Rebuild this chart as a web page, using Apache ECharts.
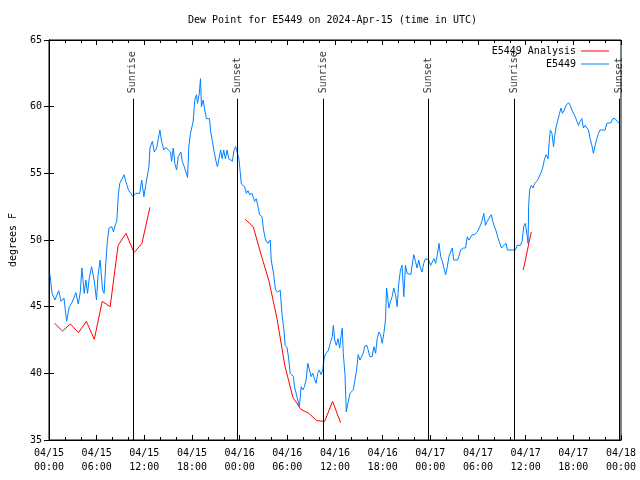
<!DOCTYPE html>
<html>
<head>
<meta charset="utf-8">
<script src="https://cdn.jsdelivr.net/npm/echarts@6/dist/echarts.min.js"></script>
<style>html,body{margin:0;padding:0;background:#fff}#c{width:640px;height:480px}</style>
</head>
<body>
<div id="c"></div>
<script>
// Hours since 2024-04-15 00:00 UTC
var obsHours = [0.13,0.38,0.75,1.22,1.51,1.88,2.22,2.55,2.89,3.39,3.68,3.93,4.14,4.43,4.64,4.85,5.06,5.36,5.68,5.98,6.18,6.44,6.74,6.94,7.15,7.36,7.56,7.90,8.12,8.32,8.53,8.74,8.91,9.16,9.45,9.66,10.00,10.29,10.57,
10.91,11.42,11.67,11.95,12.17,12.42,12.58,12.71,13.01,13.26,13.55,13.76,13.96,14.17,14.46,14.71,15.02,15.30,15.43,15.64,15.84,16.06,16.27,16.60,16.77,17.02,17.22,17.44,17.60,17.81,18.03,18.15,18.35,18.57,18.69,18.90,19.07,19.19,19.41,19.61,19.82,20.20,20.36,20.57,20.79,20.99,21.20,21.36,21.61,21.79,21.99,22.20,22.42,22.62,22.87,23.08,23.29,23.50,23.71,
23.90,24.05,24.21,24.42,24.62,24.84,25.05,25.25,25.55,25.88,26.09,26.31,26.51,26.81,27.01,27.26,27.56,27.85,27.97,28.26,28.51,28.81,29.10,29.32,29.57,29.73,29.98,30.19,30.36,30.57,30.77,30.90,31.11,31.32,31.52,31.74,31.95,32.15,32.36,32.58,32.78,32.99,33.20,33.40,33.62,33.83,34.03,34.25,34.46,
34.66,34.87,35.16,35.46,35.66,35.79,35.96,36.16,36.38,36.59,36.79,36.92,37.04,37.26,37.42,37.67,37.88,38.10,38.30,38.51,38.72,38.92,39.14,39.35,39.55,39.76,40.02,40.39,40.68,40.89,41.11,41.31,41.52,41.73,41.94,42.15,42.36,42.49,42.65,42.78,42.99,43.19,43.40,43.62,43.82,44.03,44.24,44.44,44.66,44.87,45.07,45.54,45.91,46.13,46.33,46.54,46.75,46.95,47.17,47.38,47.58,
47.79,48.04,48.26,48.46,48.67,48.88,49.09,49.30,49.51,49.71,49.93,50.14,50.34,50.55,50.77,50.93,51.43,51.59,51.81,52.18,52.44,52.65,52.85,53.06,53.27,53.56,53.90,54.10,54.32,54.53,54.73,54.94,55.16,55.36,55.66,55.86,56.07,56.32,56.54,56.74,56.95,57.24,57.54,57.70,58.71,58.92,59.33,59.55,59.75,59.96,60.17,60.30,60.38,60.50,60.71,60.93,61.13,61.47,61.72,61.97,62.18,62.38,62.59,62.81,62.97,63.10,63.31,63.51,63.64,63.81,64.01,64.23,64.44,64.64,64.85,65.10,65.39,65.61,65.82,66.02,66.23,66.45,66.65,66.86,67.07,67.27,67.49,67.70,67.90,68.11,68.33,68.53,68.74,68.96,69.16,69.37,70.00,70.21,70.75,70.96,71.25,71.54,71.75];
var obsDew = [47.4,46.0,45.5,46.2,45.4,45.65,43.9,45.0,45.3,46.05,45.2,46.05,47.9,46.0,47.0,46.0,47.1,48.0,47.0,45.5,47.4,48.5,46.25,46.0,48.25,50.0,50.9,51.0,50.6,51.1,51.4,53.5,54.25,54.25,54.9,54.4,53.75,53.5,53.25,
53.5,53.5,54.5,53.25,54.1,54.0,55.5,56.9,57.4,56.6,56.9,57.6,58.25,57.4,56.75,56.95,56.75,56.6,55.9,56.9,55.75,55.25,56.25,56.6,55.9,55.5,55.6,54.7,57.0,58.0,57.9,58.9,60.5,60.9,60.25,60.9,62.1,60.0,60.5,59.75,59.1,59.1,58.1,57.4,56.6,56.0,55.5,56.0,56.75,56.1,56.75,56.1,56.75,56.1,56.0,55.9,56.75,57.0,56.9,
56.1,55.2,54.2,54.25,54.0,53.5,53.7,53.4,53.5,52.9,53.1,52.5,51.9,51.75,50.75,50.0,49.75,50.0,48.5,47.5,46.25,46.1,46.25,44.5,43.25,42.1,41.9,41.0,40.0,39.9,39.75,39.0,38.5,38.4,37.5,39.0,38.75,39.0,39.5,40.75,40.6,39.75,40.0,39.6,39.25,40.0,40.25,39.9,40.25,
41.25,41.5,41.7,42.4,42.75,43.6,42.5,42.1,42.6,41.9,42.9,43.4,41.5,39.9,37.1,37.9,38.5,38.4,38.75,39.5,40.25,41.4,41.0,41.0,41.5,42.05,42.1,41.25,41.25,42.0,41.5,42.6,43.1,42.9,42.25,43.0,44.0,46.4,45.6,44.9,45.4,45.75,46.4,45.9,45.0,46.75,47.75,48.1,45.75,48.1,47.5,47.4,48.9,48.4,47.9,48.5,47.9,47.6,48.25,48.6,48.75,
48.5,48.1,48.0,48.6,48.25,48.9,49.75,48.75,48.4,47.9,47.4,48.0,48.75,49.1,49.4,48.5,48.5,48.75,49.25,49.4,49.4,50.25,50.0,50.1,50.4,50.4,50.6,50.75,51.1,51.5,52.0,51.1,51.4,51.5,51.9,51.4,51.0,50.6,50.1,50.25,49.4,49.6,49.75,49.25,49.25,49.6,49.6,49.9,51.0,51.25,50.4,49.75,52.6,53.75,54.1,53.9,54.25,54.45,54.45,55.1,55.5,56.1,56.4,56.1,57.4,58.25,58.0,57.0,57.75,58.4,58.9,59.4,59.9,59.5,59.75,60.1,60.3,60.1,59.75,59.5,59.25,59.4,58.6,58.9,59.1,58.4,58.6,58.5,58.25,57.6,57.1,56.5,57.1,57.6,58.0,58.25,58.25,58.75,58.8,59.1,59.1,58.9,58.75];

var anaHours1 = [0.7,1.7,2.7,3.7,4.7,5.7,6.7,7.7,8.7,9.7,10.7,11.7,12.7];
var anaDew1   = [43.75,43.17,43.7,43.05,43.9,42.55,45.4,45.0,49.6,50.5,49.05,49.75,52.45];
var anaHours2 = [24.7,25.7,26.7,27.7,28.7,29.7,30.7,31.7,32.7,33.7,34.7,35.7,36.7];
var anaDew2   = [51.55,51.0,48.9,46.9,44.1,40.55,38.2,37.3,37.0,36.45,36.4,37.9,36.3];
var anaHours3 = [59.7,60.7];
var anaDew3   = [47.75,50.6];

var sunHours  = [10.55,23.73,34.55,47.73,58.62,71.78];
var sunNames  = ['Sunrise','Sunset','Sunrise','Sunset','Sunrise','Sunset'];

var xTickLabels = ['04/15\n00:00','04/15\n06:00','04/15\n12:00','04/15\n18:00','04/16\n00:00','04/16\n06:00','04/16\n12:00','04/16\n18:00','04/17\n00:00','04/17\n06:00','04/17\n12:00','04/17\n18:00','04/18\n00:00'];

var FONT = 'DejaVu Sans Mono';
function pairs(h, v){ return h.map(function(x,i){ return [x, v[i]]; }); }
var anaData = pairs(anaHours1, anaDew1).concat([[18,null]], pairs(anaHours2, anaDew2), [[48,null]], pairs(anaHours3, anaDew3));
var obsData = pairs(obsHours, obsDew);
var sunLineTop = 60.6, sunLabelY = 61.0;
var sunLines = sunHours.map(function(h){ return [{coord:[h,35]},{coord:[h,sunLineTop]}]; });
var sunLabels = sunHours.map(function(h,i){ return [h, sunLabelY, sunNames[i]]; });

var chart = echarts.init(document.getElementById('c'), null, {renderer:'canvas'});
var xBase = {
  type:'value', min:0, max:72, interval:6,
  axisLine:{show:true, lineStyle:{color:'#000', width:1}},
  axisTick:{show:true, inside:true, length:5, lineStyle:{color:'#000'}},
  minorTick:{show:true, splitNumber:3, length:3, lineStyle:{color:'#000'}},
  splitLine:{show:false}
};
var yBase = {
  type:'value', min:35, max:65, interval:5,
  axisLine:{show:true, lineStyle:{color:'#000', width:1}},
  axisTick:{show:true, inside:true, length:5, lineStyle:{color:'#000'}},
  splitLine:{show:false}
};
chart.setOption({
  animation:false,
  backgroundColor:'#fff',
  textStyle:{fontFamily:FONT},
  title:{text:'Dew Point for E5449 on 2024-Apr-15 (time in UTC)', left:183, top:10,
    textStyle:{fontFamily:FONT, fontSize:10, fontWeight:'normal', color:'#000'}},
  grid:{left:46, right:19, top:40, bottom:40, show:true, borderColor:'#000', borderWidth:1},
  legend:[
    {data:['E5449 Analysis'], right:26, top:41, orient:'vertical', align:'right', icon:'rect', itemWidth:28, itemHeight:1, itemGap:0,
      textStyle:{fontFamily:FONT, fontSize:10, color:'#000'}},
    {data:['E5449'], right:26, top:54, orient:'vertical', align:'right', icon:'rect', itemWidth:28, itemHeight:1, itemGap:0,
      textStyle:{fontFamily:FONT, fontSize:10, color:'#000'}}
  ],
  xAxis:[
    Object.assign({}, xBase, {position:'bottom',
      axisLabel:{show:true, margin:6, fontFamily:FONT, fontSize:10, color:'#000', lineHeight:14,
        formatter:function(v){ return xTickLabels[Math.round(v/6)]; }}}),
    Object.assign({}, xBase, {position:'top', axisLabel:{show:false}})
  ],
  yAxis:[
    Object.assign({}, yBase, {position:'left', name:'degrees F', nameLocation:'middle', nameGap:31,
      nameTextStyle:{fontFamily:FONT, fontSize:10, color:'#000'},
      axisLabel:{show:true, margin:7, fontFamily:FONT, fontSize:10, color:'#000'}}),
    Object.assign({}, yBase, {position:'right', axisLabel:{show:false}})
  ],
  series:[
    {name:'E5449', type:'line', data:obsData, showSymbol:false, symbol:'none', color:'#0080ff',
      lineStyle:{width:1, color:'#0080ff'}, z:2},
    {name:'E5449 Analysis', type:'line', data:anaData, showSymbol:false, symbol:'none', connectNulls:false, color:'#ff0000',
      lineStyle:{width:1, color:'#ff0000'}, z:3},
    {name:'sun', type:'scatter', data:sunLabels, symbolSize:0, silent:true, z:4,
      label:{show:true, position:'inside', rotate:90, align:'left', verticalAlign:'middle',
        fontFamily:FONT, fontSize:10, color:'#000', formatter:function(p){ return p.data[2]; }},
      markLine:{silent:true, symbol:['none','none'], label:{show:false},
        lineStyle:{color:'#000', width:1, type:'solid'}, data:sunLines}}
  ]
});
</script>
</body>
</html>
